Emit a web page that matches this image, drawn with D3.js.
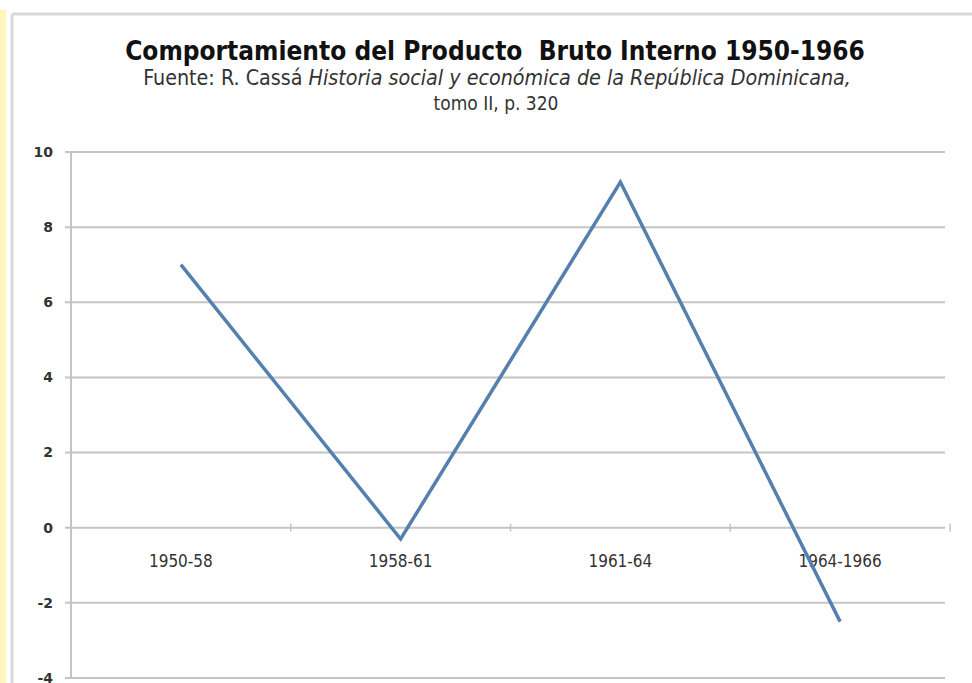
<!DOCTYPE html>
<html>
<head>
<meta charset="utf-8">
<script src="https://cdn.jsdelivr.net/npm/d3@7"></script>
<style>
  body { margin: 0; background: #fff; }
  text { font-family: "DejaVu Sans", Verdana, sans-serif; fill: #222; }
</style>
</head>
<body>
<div id="chart"></div>
<script>
const periods = ["1950-58", "1958-61", "1961-64", "1964-1966"];
const pibValues = [7.0, -0.3, 9.2, -2.5];
const yTicks = [-4, -2, 0, 2, 4, 6, 8, 10];

const width = 972;
const height = 683;

const svg = d3.select("#chart").append("svg")
  .attr("width", width)
  .attr("height", height);

// yellow strip at the left edge
svg.append("rect")
  .attr("x", 0).attr("y", 10)
  .attr("width", 6).attr("height", height - 10)
  .attr("fill", "#fff5bf");

// chart frame (top and left edge only visible)
svg.append("line")
  .attr("x1", 12).attr("y1", 14).attr("x2", width).attr("y2", 14)
  .attr("stroke", "#d9d9d9").attr("stroke-width", 3);
svg.append("line")
  .attr("x1", 12).attr("y1", 14).attr("x2", 12).attr("y2", height)
  .attr("stroke", "#d9d9d9").attr("stroke-width", 3);

// titles
svg.append("text")
  .attr("x", 495).attr("y", 60)
  .attr("text-anchor", "middle")
  .style("font-family", "'DejaVu Sans Condensed', 'DejaVu Sans', sans-serif")
  .style("font-size", "26px")
  .style("font-weight", "bold")
  .style("fill", "#111")
  .style("white-space", "pre")
  .text("Comportamiento del Producto  Bruto Interno 1950-1966");

const sub = svg.append("text")
  .attr("x", 497).attr("y", 85)
  .attr("text-anchor", "middle")
  .style("font-family", "'DejaVu Sans Condensed', 'DejaVu Sans', sans-serif")
  .style("font-size", "21.3px")
  .style("fill", "#333");
sub.append("tspan").text("Fuente: R. Cassá ");
sub.append("tspan").style("font-style", "italic")
  .text("Historia social y económica de la República Dominicana,");

svg.append("text")
  .attr("x", 496).attr("y", 110)
  .attr("text-anchor", "middle")
  .style("font-family", "'DejaVu Sans Condensed', 'DejaVu Sans', sans-serif")
  .style("font-size", "19px")
  .style("fill", "#333")
  .text("tomo II, p. 320");

// scales
const plot = { left: 71, right: 950, top: 152, bottom: 678 };

const x = d3.scaleBand()
  .domain(periods)
  .range([plot.left, plot.right]);

const y = d3.scaleLinear()
  .domain([-4, 10])
  .range([plot.bottom, plot.top]);

// gridlines
svg.append("g")
  .selectAll("line")
  .data(yTicks)
  .join("line")
  .attr("x1", plot.left - 6)
  .attr("x2", plot.right - 5)
  .attr("y1", d => y(d))
  .attr("y2", d => y(d))
  .attr("stroke", "#c4c4c4")
  .attr("stroke-width", 2);

// y axis
svg.append("line")
  .attr("x1", plot.left).attr("x2", plot.left)
  .attr("y1", plot.top).attr("y2", plot.bottom)
  .attr("stroke", "#c4c4c4").attr("stroke-width", 2);

svg.append("g")
  .selectAll("text")
  .data(yTicks)
  .join("text")
  .attr("x", 53)
  .attr("y", d => y(d))
  .attr("dy", "0.35em")
  .attr("text-anchor", "end")
  .style("font-size", "14px")
  .style("font-weight", "bold")
  .style("fill", "#333")
  .text(d => d);

// category ticks on the zero line
const tickX = periods.map(p => x(p) + x.bandwidth());
svg.append("g")
  .selectAll("line")
  .data(tickX)
  .join("line")
  .attr("x1", d => d).attr("x2", d => d)
  .attr("y1", y(0) - 4).attr("y2", y(0) + 4)
  .attr("stroke", "#c4c4c4").attr("stroke-width", 1.5);

// category labels
svg.append("g")
  .selectAll("text")
  .data(periods)
  .join("text")
  .attr("x", d => x(d) + x.bandwidth() / 2)
  .attr("y", y(0) + 39)
  .attr("text-anchor", "middle")
  .style("font-family", "'DejaVu Sans Condensed', 'DejaVu Sans', sans-serif")
  .style("font-size", "17px")
  .style("fill", "#333")
  .text(d => d);

// line
const line = d3.line()
  .x((d, i) => x(periods[i]) + x.bandwidth() / 2)
  .y(d => y(d));

svg.append("path")
  .datum(pibValues)
  .attr("d", line)
  .attr("fill", "none")
  .attr("stroke", "#5580ae")
  .attr("stroke-width", 3.5)
  .attr("stroke-linejoin", "miter");
</script>
</body>
</html>
